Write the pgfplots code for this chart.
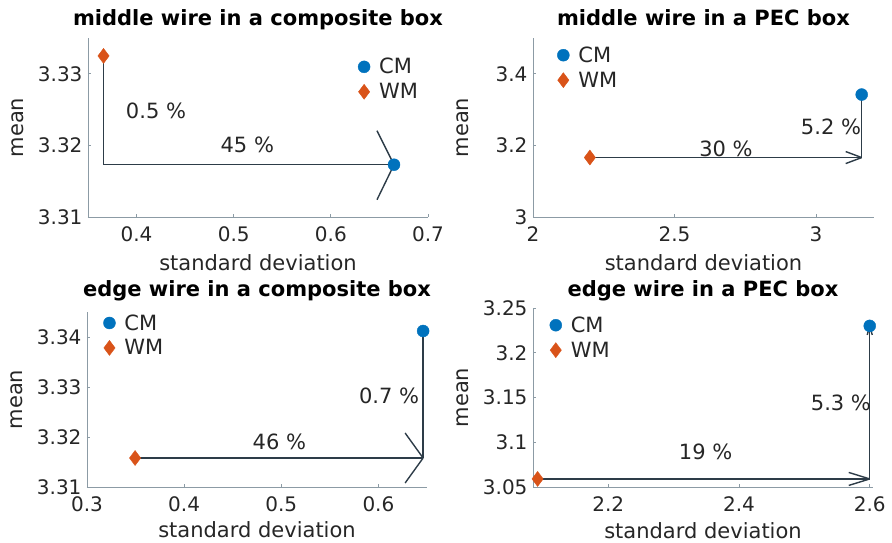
\documentclass[border=0pt]{standalone}
\usepackage{fontspec}
\setmainfont{DejaVu Sans}
\usepackage{pgfplots}
\pgfplotsset{compat=1.18}

\definecolor{cmblue}{RGB}{0,114,189}
\definecolor{wmorange}{RGB}{217,83,25}
\definecolor{axgray}{RGB}{140,155,165}
\definecolor{txt}{RGB}{38,38,38}
\definecolor{arr}{RGB}{45,60,72}

\pgfplotsset{
  panel/.style={
    scale only axis,
    clip=false,
    axis x line*=bottom, axis y line*=left,
    axis line style={axgray, line width=0.8pt},
    tick style={axgray, line width=0.8pt},
    tick align=inside,
    major tick length=3pt,
    /pgf/number format/assume math mode=true,
    /pgf/number format/fixed,
    tick label style={font=\fontsize{20}{24}\selectfont, text=txt},
    xticklabel style={yshift=-6pt},
    yticklabel style={xshift=-2pt},
    xlabel={standard deviation}, ylabel={mean},
    every axis x label/.style={at={(axis description cs:0.5,-0.257)}, anchor=center, font=\fontsize{21}{25}\selectfont, text=txt},
    every axis y label/.style={at={(axis description cs:-0.206,0.5)}, anchor=center, rotate=90, font=\fontsize{21}{25}\selectfont, text=txt},
    title style={at={(0.5,1)}, anchor=base, yshift=6pt, font=\fontsize{21}{25}\selectfont\bfseries},
    legend style={draw=none, fill=none, font=\fontsize{21}{25}\selectfont, text=txt,
      anchor=north west, row sep=4pt, /tikz/every odd column/.append style={column sep=7pt}},
    legend cell align=left,
  },
  cm/.style={only marks, mark=*, mark size=6pt, color=cmblue},
  wm/.style={only marks, mark=diamond*, mark size=7.5pt, color=wmorange},
}
\tikzset{ar/.style={draw=arr, line width=1.4pt}, pct/.style={font=\fontsize{21}{25}\selectfont, text=txt, anchor=center}}

\begin{document}
\begin{tikzpicture}
\useasboundingbox (0pt,0pt) rectangle (892pt,543pt);

% middle wire, composite box
\begin{axis}[panel, at={(88pt,505pt)}, anchor=north west, width=340pt, height=179pt,
  xmin=0.35, xmax=0.7, ymin=3.31, ymax=3.335,
  xtick={0.4,0.5,0.6,0.7}, ytick={3.31,3.32,3.33},
  title={middle wire in a composite box},
  legend style={at={(axis description cs:0.785,0.91)}}]
\addplot[cm] coordinates {(0.665,3.3173)};
\addplot[wm] coordinates {(0.366,3.3325)};
\legend{CM,WM}
\draw[ar] (0.366,3.3325) -- (0.366,3.3173) -- (0.665,3.3173);
\draw[ar] (0.665,3.3173) -- ++(-17pt,34pt);
\draw[ar] (0.665,3.3173) -- ++(-17pt,-35pt);
\node[pct] at (0.42,3.3248) {0.5 \%};
\node[pct] at (0.514,3.3201) {45 \%};
\end{axis}

% middle wire, PEC box
\begin{axis}[panel, at={(533pt,505pt)}, anchor=north west, width=341pt, height=179pt,
  xmin=2, xmax=3.205, ymin=3, ymax=3.5,
  xtick={2,2.5,3}, ytick={3,3.2,3.4},
  title={middle wire in a PEC box},
  legend style={at={(axis description cs:0.062,0.975)}}]
\addplot[cm] coordinates {(3.1615,3.342)};
\addplot[wm] coordinates {(2.201,3.166)};
\legend{CM,WM}
\draw[ar] (2.201,3.166) -- (3.1615,3.166);
\draw[ar] (3.1615,3.342) -- (3.1615,3.166);
\draw[ar] (3.1615,3.166) -- ++(-16pt,6pt);
\draw[ar] (3.1615,3.166) -- ++(-16pt,-6pt);
\node[pct] at (3.053,3.251) {5.2 \%};
\node[pct] at (2.682,3.19) {30 \%};
\end{axis}

% edge wire, composite box
\begin{axis}[panel, at={(87pt,231pt)}, anchor=north west, width=340pt, height=175pt,
  xmin=0.3, xmax=0.65, ymin=3.31, ymax=3.345,
  xtick={0.3,0.4,0.5,0.6}, ytick={3.31,3.32,3.33,3.34},
  title={edge wire in a composite box},
  title style={yshift=3pt},
  every axis x label/.append style={yshift=2pt},
  legend style={at={(axis description cs:0.039,1.01)}}]
\addplot[cm] coordinates {(0.646,3.3412)};
\addplot[wm] coordinates {(0.3495,3.3158)};
\legend{CM,WM}
\draw[ar] (0.3495,3.3158) -- (0.646,3.3158);
\draw[ar] (0.646,3.3158) -- (0.646,3.3412);
\draw[ar] (0.646,3.3158) -- ++(-18pt,25pt);
\draw[ar] (0.646,3.3158) -- ++(-18pt,-25pt);
\node[pct] at (0.611,3.3283) {0.7 \%};
\node[pct] at (0.498,3.319) {46 \%};
\end{axis}

% edge wire, PEC box
\begin{axis}[panel, at={(533pt,235pt)}, anchor=north west, width=340pt, height=179pt,
  xmin=2.085, xmax=2.605, ymin=3.05, ymax=3.25,
  xtick={2.2,2.4,2.6}, ytick={3.05,3.1,3.15,3.2,3.25},
  title={edge wire in a PEC box},
  title style={yshift=-1pt},
  every axis x label/.append style={yshift=2pt},
  legend style={at={(axis description cs:0.04,0.975)}}]
\addplot[cm] coordinates {(2.6,3.23)};
\addplot[wm] coordinates {(2.092,3.059)};
\legend{CM,WM}
\draw[ar] (2.092,3.059) -- (2.6,3.059);
\draw[ar] (2.6,3.059) -- ++(-21pt,6.5pt);
\draw[ar] (2.6,3.059) -- ++(-21pt,-6.5pt);
\draw[ar] (2.6,3.059) -- (2.6,3.23);
\draw[ar] (2.6,3.23) -- ++(-2.5pt,-9pt);
\draw[ar] (2.6,3.23) -- ++(2.5pt,-9pt);
\node[pct] at (2.556,3.144) {5.3 \%};
\node[pct] at (2.349,3.089) {19 \%};
\end{axis}
\end{tikzpicture}
\end{document}
